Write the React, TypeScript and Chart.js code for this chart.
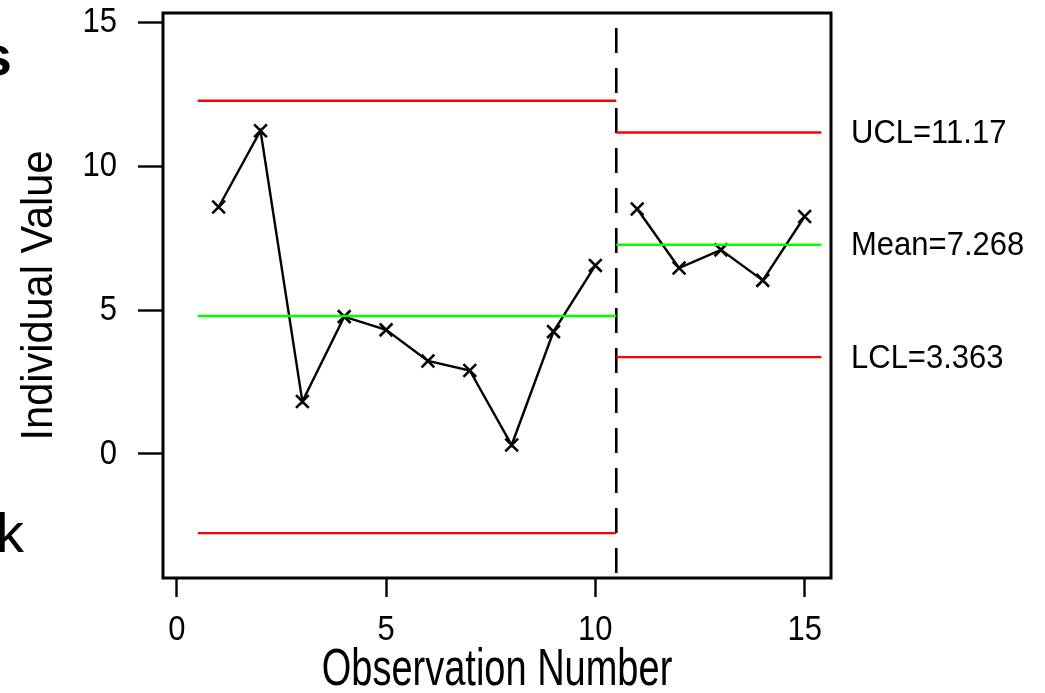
import React, { useEffect, useRef } from "react";
import { Chart, registerables } from "chart.js";

Chart.register(...registerables);

// ---- data ----
const phase1X = [1, 2, 3, 4, 5, 6, 7, 8, 9, 10];
const phase1Y = [8.58, 11.23, 1.82, 4.77, 4.31, 3.23, 2.9, 0.31, 4.25, 6.55];
const phase2X = [11, 12, 13, 14, 15];
const phase2Y = [8.51, 6.46, 7.09, 6.03, 8.25];

const phase1Range = [0.5, 10.5];
const phase2Range = [10.5, 15.4];
const phase1Limits = { ucl: 12.27, mean: 4.795, lcl: -2.75 };
const phase2Limits = { ucl: 11.17, mean: 7.268, lcl: 3.363 };
const phase2Labels = ["UCL=11.17", "Mean=7.268", "LCL=3.363"];
const splitAt = 10.5;

const xTicks = [0, 5, 10, 15];
const yTicks = [0, 5, 10, 15];
const xRange = [-0.33, 15.63];
const yRange = [-4.31, 15.32];

const xTitle = "Observation Number";
const yTitle = "Individual Value";
const cropS = "s";
const cropK = "k";

const FONT = "'Liberation Sans', Arial, Helvetica, sans-serif";

const seg = (r: number[], y: number) => [
  { x: r[0], y },
  { x: r[1], y },
];

// vertical stretch of the glyphs (the reference text is drawn tall and narrow)
const stretchFor = (t: string) => {
  if (t === xTitle) return 1.35;
  if (t === yTitle) return 1.07;
  if (t === cropS || t === cropK) return 1;
  if (phase2Labels.includes(t)) return 1.1;
  return 1.15;
};

export default function App() {
  const ref = useRef<HTMLCanvasElement | null>(null);

  useEffect(() => {
    if (!ref.current) return;
    const lineStyle = (color: string) => ({
      borderColor: color,
      borderWidth: 2.4,
      pointRadius: 0,
      fill: false,
    });

    const stretchPlugin = {
      id: "stretchText",
      beforeInit(chart: any) {
        const ctx = chart.ctx as any;
        if (ctx.__origFill) return;
        const orig = ctx.fillText;
        ctx.__origFill = orig;
        ctx.fillText = function (text: any, x: number, y: number, maxWidth?: number) {
          const k = stretchFor(String(text));
          this.save();
          this.translate(x, y);
          this.scale(1, k);
          if (maxWidth === undefined || maxWidth === null) orig.call(this, text, 0, 0);
          else orig.call(this, text, 0, 0, maxWidth);
          this.restore();
        };
      },
    };

    const boxPlugin = {
      id: "boxAndLabels",
      afterDraw(chart: any) {
        const { ctx, chartArea, scales } = chart;
        ctx.save();
        ctx.strokeStyle = "#000";
        ctx.lineWidth = 3;
        ctx.strokeRect(
          chartArea.left,
          chartArea.top,
          chartArea.right - chartArea.left,
          chartArea.bottom - chartArea.top
        );
        // right-side limit labels
        ctx.fillStyle = "#000";
        ctx.font = `31px ${FONT}`;
        ctx.textAlign = "left";
        ctx.textBaseline = "middle";
        const vals = [phase2Limits.ucl, phase2Limits.mean, phase2Limits.lcl];
        vals.forEach((v, i) => {
          ctx.fillText(phase2Labels[i], chartArea.right + 20, scales.y.getPixelForValue(v) + 1);
        });
        // cropped letters from surrounding page
        ctx.textAlign = "right";
        ctx.textBaseline = "alphabetic";
        ctx.font = `bold 56px ${FONT}`;
        ctx.fillText(cropS, 12, 75);
        ctx.font = `56px ${FONT}`;
        ctx.fillText(cropK, 24, 552);
        ctx.restore();
      },
    };

    const markerDs = (xs: number[], ys: number[]) => ({
      data: xs.map((x, i) => ({ x, y: ys[i] })),
      borderColor: "#000",
      borderWidth: 2.4,
      pointStyle: "crossRot",
      pointRadius: 9,
      pointBorderWidth: 2.6,
      pointBorderColor: "#000",
    });

    const chart = new Chart(ref.current, {
      type: "line",
      data: {
        datasets: [
          { data: seg(phase1Range, phase1Limits.ucl), ...lineStyle("#ff0000") },
          { data: seg(phase1Range, phase1Limits.mean), ...lineStyle("#00ff00") },
          { data: seg(phase1Range, phase1Limits.lcl), ...lineStyle("#ff0000") },
          { data: seg(phase2Range, phase2Limits.ucl), ...lineStyle("#ff0000") },
          { data: seg(phase2Range, phase2Limits.mean), ...lineStyle("#00ff00") },
          { data: seg(phase2Range, phase2Limits.lcl), ...lineStyle("#ff0000") },
          {
            data: [
              { x: splitAt, y: yRange[1] },
              { x: splitAt, y: yRange[0] },
            ],
            borderColor: "#000",
            borderWidth: 2.6,
            borderDash: [25, 15],
            borderDashOffset: 25,
            pointRadius: 0,
          },
          markerDs(phase1X, phase1Y),
          markerDs(phase2X, phase2Y),
        ] as any,
      },
      options: {
        animation: false,
        responsive: false,
        devicePixelRatio: 1,
        layout: { padding: { top: 13, right: 214, left: 0, bottom: 0 } },
        plugins: { legend: { display: false }, tooltip: { enabled: false } },
        elements: { line: { tension: 0 } },
        scales: {
          x: {
            type: "linear",
            min: xRange[0],
            max: xRange[1],
            afterBuildTicks: (axis: any) => {
              axis.ticks = xTicks.map((v) => ({ value: v }));
            },
            afterFit: (scale: any) => {
              scale.height = 115;
              scale.paddingLeft = 0;
              scale.paddingRight = 0;
            },
            border: { display: false },
            grid: {
              drawOnChartArea: false,
              drawTicks: true,
              tickLength: 19,
              tickWidth: 2.4,
              tickColor: "#000",
            },
            ticks: {
              color: "#000",
              font: { family: FONT, size: 31 },
              padding: 15,
              maxRotation: 0,
              autoSkip: false,
            },
            title: {
              display: true,
              text: xTitle,
              color: "#000",
              font: { family: FONT, size: 38 },
              padding: { top: 0, bottom: -1 },
            },
          },
          y: {
            type: "linear",
            min: yRange[0],
            max: yRange[1],
            afterBuildTicks: (axis: any) => {
              axis.ticks = yTicks.map((v) => ({ value: v }));
            },
            afterFit: (scale: any) => {
              scale.width = 163;
              scale.paddingTop = 0;
              scale.paddingBottom = 0;
            },
            border: { display: false },
            grid: {
              drawOnChartArea: false,
              drawTicks: true,
              tickLength: 25,
              tickWidth: 2.4,
              tickColor: "#000",
            },
            ticks: {
              color: "#000",
              font: { family: FONT, size: 31 },
              padding: 21,
              autoSkip: false,
            },
            title: {
              display: true,
              text: yTitle,
              color: "#000",
              font: { family: FONT, size: 41.5 },
              padding: { top: 15, bottom: 0 },
            },
          },
        },
      } as any,
      plugins: [stretchPlugin, boxPlugin],
    });
    return () => chart.destroy();
  }, []);

  return (
    <div style={{ position: "absolute", left: 0, top: 0, width: 1045, height: 693, background: "#fff" }}>
      <canvas ref={ref} width={1045} height={693} style={{ display: "block" }} />
    </div>
  );
}
